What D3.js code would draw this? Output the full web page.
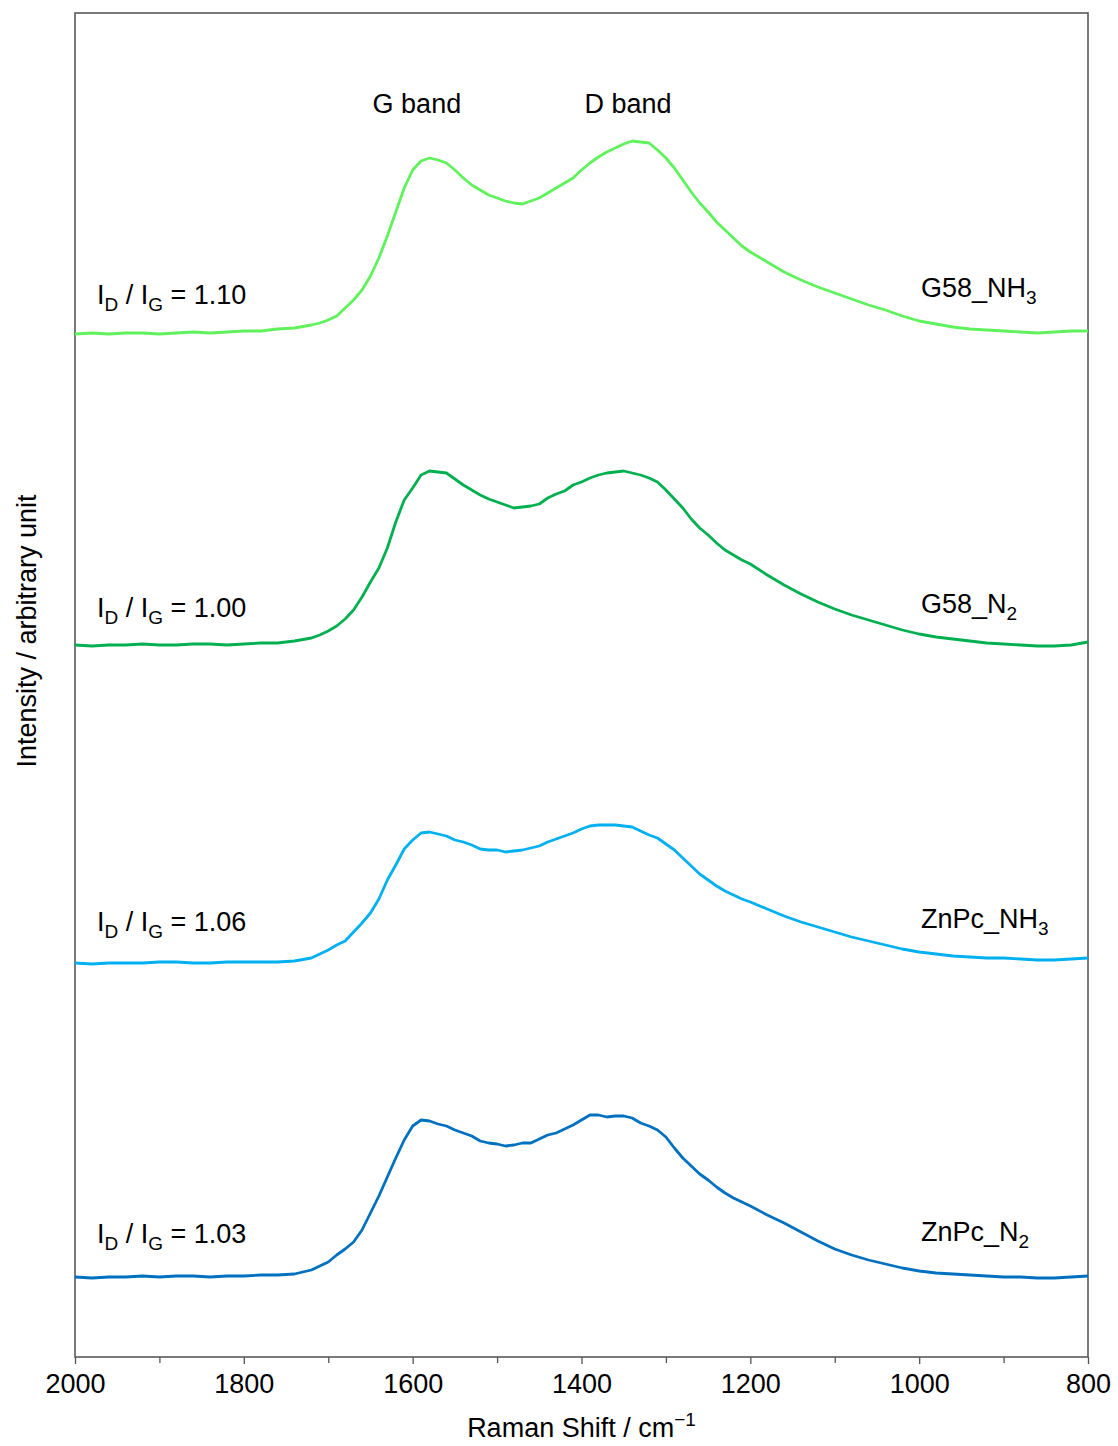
<!DOCTYPE html>
<html>
<head>
<meta charset="utf-8">
<script src="https://cdn.jsdelivr.net/npm/d3@7"></script>
<style>
  html, body { margin: 0; padding: 0; background: #fff; }
  svg text { font-family: "Liberation Sans", Arial, sans-serif; fill: #000; }
</style>
</head>
<body>
<svg id="chart" width="1118" height="1446"></svg>
<script>
// Raman shift (cm-1) sample positions
const wavenumbers = [
  2000,1980,1960,1940,1920,1900,1880,1860,1840,1820,1800,1780,1760,1740,1720,
  1710,1700,1690,1680,1670,1660,1650,1640,1630,1620,1610,1600,1590,1580,1570,1560,1550,1540,1530,1520,
  1510,1500,1490,1480,1470,1460,1450,1440,1430,1420,1410,1400,1390,1380,1370,1360,1350,1340,1330,1320,
  1310,1300,1290,1280,1270,1260,1250,1240,1230,1220,1210,1200,
  1180,1160,1140,1120,1100,1080,1060,1040,1020,1000,980,960,940,920,900,880,860,840,820,800
];

// Stacked (offset) intensities, arbitrary units
const g58NH3 = [
  1023,1024,1023,1024,1024,1023,1024,1025,1024,1025,1026,1026,1028,1029,1032,
  1034,1037,1041,1049,1057,1067,1081,1099,1121,1145,1169,1187,1196,1199,1197,1194,1187,1179,1172,1167,
  1162,1159,1156,1154,1153,1156,1159,1164,1169,1174,1179,1187,1194,1200,1205,1209,1213,1216,1215,1214,
  1207,1199,1189,1177,1165,1154,1145,1135,1127,1119,1111,1105,
  1095,1085,1077,1070,1064,1058,1052,1047,1041,1036,1033,1030,1028,1027,1026,1025,1024,1025,1026,1026
];
const g58N2 = [
  712,711,712,712,713,712,712,713,713,712,713,714,714,716,719,
  722,726,731,738,747,760,775,789,809,835,857,869,882,886,885,884,878,872,867,862,
  858,855,852,849,850,851,853,859,863,866,872,875,879,882,884,885,886,884,882,879,
  875,867,858,849,838,829,822,814,807,802,797,793,
  782,772,763,755,748,742,737,732,727,723,720,718,716,714,713,712,711,711,712,715
];
const znpcNH3 = [
  394,393,394,394,394,395,395,394,394,395,395,395,395,396,399,
  403,407,412,416,425,434,444,458,477,492,508,517,524,525,523,521,517,515,512,508,
  507,507,505,506,507,509,511,515,518,521,524,528,531,532,532,532,531,530,526,522,
  519,513,507,499,491,483,477,471,466,462,458,455,
  448,441,435,430,425,420,416,412,408,405,403,401,400,399,399,398,397,397,398,399
];
const znpcN2 = [
  80,79,80,80,81,80,81,81,80,81,81,82,82,83,87,
  91,95,102,108,115,127,144,161,180,199,217,231,237,236,233,231,227,224,221,216,
  214,213,211,212,214,214,218,222,224,228,232,237,242,242,240,241,241,239,234,231,
  227,220,209,199,191,183,177,170,164,159,155,151,
  142,134,125,116,108,102,97,93,89,86,84,83,82,81,80,80,79,79,80,81
];

const seriesNames = ["G58_NH3", "G58_N2", "ZnPc_NH3", "ZnPc_N2"];
const seriesValues = [g58NH3, g58N2, znpcNH3, znpcN2];
const seriesColors = ["#5ff25c", "#00b050", "#00b0f0", "#0070c0"];
const ratioLabels = ["1.10", "1.00", "1.06", "1.03"];
// label heights (arbitrary intensity units) for ratio text and sample names
const ratioLabelY = [1053, 740, 426, 114];
const nameLabelY = [1060, 744, 429, 116];

const xTicksMajor = [2000, 1800, 1600, 1400, 1200, 1000, 800];
const xTicksMinor = [1900, 1700, 1500, 1300, 1100, 900];
const bandLabels = [{text: "G band", w: 1595}, {text: "D band", w: 1345}];

const FS = 27, SUB = 19;
const svg = d3.select("#chart");
const margin = {left: 75, top: 13, right: 30, bottom: 89};
const W = 1118, H = 1446;
const x = d3.scaleLinear().domain([2000, 800]).range([margin.left, W - margin.right]);
const y = d3.scaleLinear().domain([0, 1344]).range([H - margin.bottom, margin.top]);

// minor ticks
svg.append("g")
  .attr("transform", `translate(0,${H - margin.bottom})`)
  .call(d3.axisBottom(x).tickValues(xTicksMinor).tickSize(6).tickFormat("").tickSizeOuter(0))
  .call(g => g.select(".domain").remove())
  .call(g => g.selectAll("line").attr("stroke", "#555").attr("stroke-width", 1.3));

// major ticks + labels
svg.append("g")
  .attr("transform", `translate(0,${H - margin.bottom})`)
  .call(d3.axisBottom(x).tickValues(xTicksMajor).tickSize(7).tickPadding(10).tickSizeOuter(0).tickFormat(d3.format("d")))
  .call(g => g.select(".domain").remove())
  .call(g => g.selectAll("line").attr("stroke", "#555").attr("stroke-width", 1.3))
  .call(g => g.selectAll("text").attr("font-size", FS).attr("font-family", "Liberation Sans, Arial, sans-serif").attr("fill", "#000"));

// frame
svg.append("rect")
  .attr("x", x(2000)).attr("y", y(1344))
  .attr("width", x(800) - x(2000)).attr("height", y(0) - y(1344))
  .attr("fill", "none").attr("stroke", "#595959").attr("stroke-width", 1.6);

// lines
const line = d3.line().x((d, i) => x(wavenumbers[i])).y(d => y(d));
seriesValues.forEach((vals, k) => {
  svg.append("path")
    .datum(vals)
    .attr("d", line)
    .attr("fill", "none")
    .attr("stroke", seriesColors[k])
    .attr("stroke-width", 2.8)
    .attr("stroke-linejoin", "round");
});

// band labels
bandLabels.forEach(b => {
  svg.append("text").attr("x", x(b.w)).attr("y", 113)
    .attr("text-anchor", "middle").attr("font-size", FS).text(b.text);
});

// ratio labels
ratioLabels.forEach((r, k) => {
  const t = svg.append("text").attr("x", 97).attr("y", y(ratioLabelY[k])).attr("font-size", FS);
  t.append("tspan").text("I");
  t.append("tspan").attr("font-size", SUB).attr("dy", 7).text("D");
  t.append("tspan").attr("dy", -7).text(" / I");
  t.append("tspan").attr("font-size", SUB).attr("dy", 7).text("G");
  t.append("tspan").attr("dy", -7).text(" = " + r);
});

// sample name labels with subscripts
const nameParts = [["G58_NH", "3"], ["G58_N", "2"], ["ZnPc_NH", "3"], ["ZnPc_N", "2"]];
nameParts.forEach((p, k) => {
  const t = svg.append("text").attr("x", 921).attr("y", y(nameLabelY[k])).attr("font-size", FS);
  t.append("tspan").text(p[0]);
  t.append("tspan").attr("font-size", SUB).attr("dy", 7).text(p[1]);
});

// axis titles
const xt = svg.append("text").attr("x", (x(2000) + x(800)) / 2).attr("y", 1437)
  .attr("text-anchor", "middle").attr("font-size", FS);
xt.append("tspan").text("Raman Shift / cm");
xt.append("tspan").attr("font-size", SUB).attr("dy", -11).text("\u22121");

svg.append("text")
  .attr("transform", `translate(36,${(y(0) + y(1344)) / 2 - 54}) rotate(-90)`)
  .attr("text-anchor", "middle").attr("font-size", FS)
  .text("Intensity / arbitrary unit");
</script>
</body>
</html>
